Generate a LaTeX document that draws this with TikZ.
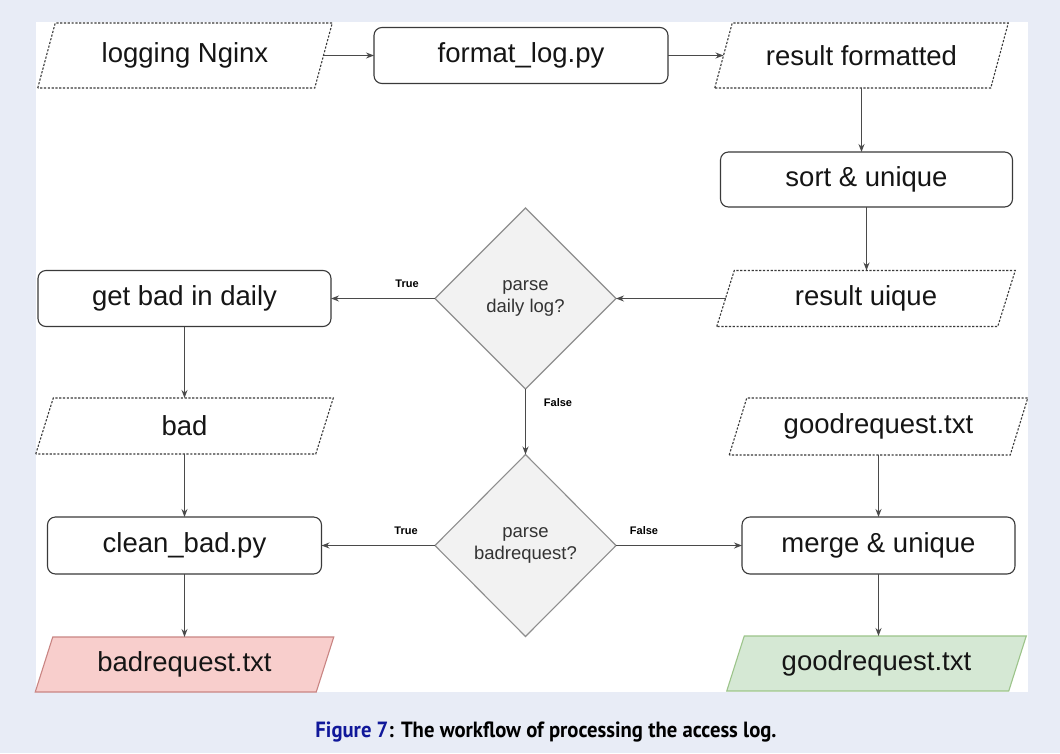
\documentclass[tikz,border=0pt]{standalone}
\usepackage{fontspec}
\usepackage{graphicx}
\setmainfont{Liberation Sans}
\newfontfamily\capfont{PT Sans}
\usetikzlibrary{shapes.geometric,arrows.meta}

\definecolor{pagebg}{HTML}{E8ECF6}
\definecolor{edge}{HTML}{3A3A3A}
\definecolor{wire}{HTML}{4A4A4A}
\definecolor{txt}{HTML}{151515}
\definecolor{decfill}{HTML}{F2F2F2}
\definecolor{decedge}{HTML}{8E8E8E}
\definecolor{badfill}{HTML}{F8CECC}
\definecolor{badedge}{HTML}{C98583}
\definecolor{goodfill}{HTML}{D5E8D4}
\definecolor{goodedge}{HTML}{9CC48A}
\definecolor{capblue}{HTML}{10189A}

\pgfdeclarelayer{paper}
\pgfdeclarelayer{outline}
\pgfsetlayers{paper,outline,main}

% half of the horizontal slant of a data (parallelogram) box
\newcommand\halfslant{8.75pt}
% parallelogram outline around a named rectangular node
\newcommand\ioshape[2]{%
  \begin{pgfonlayer}{outline}
    \draw[#2] ([xshift=-\halfslant]#1.south west) -- ([xshift=\halfslant]#1.north west)
      -- ([xshift=\halfslant]#1.north east) -- ([xshift=-\halfslant]#1.south east) -- cycle;
  \end{pgfonlayer}}

\begin{document}
\begin{tikzpicture}[x=1pt,y=-1pt,
  every node/.style={inner sep=0pt, outer sep=0pt},
  lbl/.style={font=\fontsize{27.5}{33}\selectfont, text=txt},
  proc/.style={lbl, rectangle, draw=edge, line width=1.1pt, rounded corners=8pt, fill=white},
  io/.style={lbl, rectangle},
  dataio/.style={draw=edge, line width=1.1pt, dash pattern=on 2.2pt off 1.6pt, fill=white},
  badio/.style={draw=badedge, line width=1.1pt, fill=badfill},
  goodio/.style={draw=goodedge, line width=1.1pt, fill=goodfill},
  decision/.style={diamond, aspect=1, draw=decedge, line width=1.1pt, fill=decfill,
    text=black!80, align=center, font=\fontsize{18.5}{22}\selectfont},
  branch/.style={font=\bfseries\fontsize{11}{13}\selectfont, text=black},
  arr/.style={draw=wire, line width=1.1pt, -{Stealth[length=8pt,width=6pt]}}
]
\useasboundingbox (0,0) rectangle (1060,753);
% page and white panel
\begin{pgfonlayer}{paper}
  \fill[pagebg] (0,0) rectangle (1060,753);
  \fill[white] (36,22) rectangle (1028,692);
\end{pgfonlayer}

% top row
\node[io, minimum width=277, minimum height=65] (log) at (185,55.5) {logging Nginx};
\node[proc, minimum width=294, minimum height=56] (fmt) at (521,55.5) {format\_log.py};
\node[io, minimum width=276, minimum height=65] (resf) at (861.5,55.5) {result formatted};

% right column
\node[proc, minimum width=292, minimum height=55] (sort) at (866.5,179.5) {sort \& unique};
\node[io, minimum width=281, minimum height=56] (resu) at (866,298.5) {result uique};
\node[io, minimum width=281, minimum height=57] (goodin) at (878.5,426.5) {goodrequest.txt};
\node[proc, minimum width=273, minimum height=57] (merge) at (878.5,545.5) {merge \& unique};
\node[io, minimum width=282, minimum height=55] (goodout) at (876.5,663.5) {goodrequest.txt};

% decisions
\node[decision, minimum width=181, minimum height=181] (d1) at (525.5,298.5) {parse\\daily log?};
\node[decision, minimum width=181, minimum height=182] (d2) at (525.5,545.5) {parse\\badrequest?};

% left column
\node[proc, minimum width=293, minimum height=56] (getbad) at (184.5,298.5) {get bad in daily};
\node[io, minimum width=280, minimum height=56] (bad) at (184.5,426) {bad};
\node[proc, minimum width=274, minimum height=57] (clean) at (184.5,545.5) {clean\_bad.py};
\node[io, minimum width=281, minimum height=55] (badreq) at (184.5,664.5) {badrequest.txt};

% parallelogram outlines of the data boxes
\ioshape{log}{dataio}
\ioshape{resf}{dataio}
\ioshape{resu}{dataio}
\ioshape{goodin}{dataio}
\ioshape{bad}{dataio}
\ioshape{badreq}{badio}
\ioshape{goodout}{goodio}

% branch labels
\node[branch] (t1) at (407,284) {True};
\node[branch] (f1) at (558,403) {False};
\node[branch] (t2) at (406,531) {True};
\node[branch] (f2) at (644,531) {False};

% connectors
\draw[arr] (log) -- (fmt);
\draw[arr] (fmt) -- (resf);
\draw[arr] (resf.south) -- (resf.south |- sort.north);
\draw[arr] (sort.south) -- (sort.south |- resu.north);
\draw[arr] (resu) -- (d1);
\draw[arr] (d1) -- (getbad);
\draw[arr] (getbad.south) -- (getbad.south |- bad.north);
\draw[arr] (bad.south) -- (bad.south |- clean.north);
\draw[arr] (clean.south) -- (clean.south |- badreq.north);
\draw[arr] (d1) -- (d2);
\draw[arr] (d2) -- (clean);
\draw[arr] (d2) -- (merge);
\draw[arr] (goodin) -- (merge);
\draw[arr] (merge.south) -- (merge.south |- goodout.north);

% caption
\node[anchor=base, font=\capfont\bfseries\fontsize{22}{26}\selectfont] (cap) at (546,737)
  {\scalebox{0.94}[1]{\textcolor{capblue}{Figure 7}: The workflow of processing the access log.}};
\end{tikzpicture}
\end{document}
